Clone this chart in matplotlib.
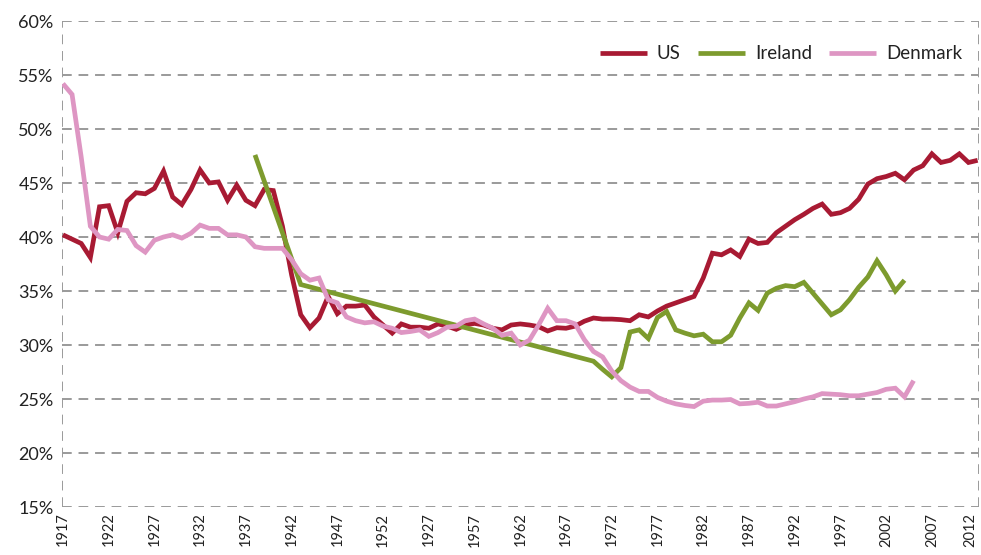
import numpy as np
import matplotlib
matplotlib.use("Agg")
import matplotlib.pyplot as plt

# ---- data (category index 0..100) ----
tick_labels = ["1917", "1922", "1927", "1932", "1937", "1942", "1947", "1952", "1927",
               "1957", "1962", "1967", "1972", "1977", "1982", "1987", "1992", "1997",
               "2002", "2007", "2012"]

us = [40.2, 39.8, 39.4, 38.1, 42.8, 42.9, 40.4, 43.3, 44.1, 44.0,
      44.5, 46.1, 43.7, 43.0, 44.4, 46.2, 45.0, 45.1, 43.4, 44.8,
      43.4, 42.9, 44.4, 44.3, 41.0, 36.5, 32.8, 31.6, 32.5, 34.5,
      32.9, 33.6, 33.6, 33.7, 32.6, 31.85, 31.1, 31.95, 31.65, 31.65,
      31.55, 31.95, 31.75, 31.45, 31.85, 32.0, 31.85, 31.55, 31.4, 31.85,
      31.95, 31.85, 31.7, 31.3, 31.6, 31.55, 31.75, 32.2, 32.5, 32.4,
      32.4, 32.35, 32.25, 32.8, 32.6, 33.15, 33.6, 33.9, 34.2, 34.5,
      36.2, 38.5, 38.35, 38.8, 38.2, 39.8, 39.4, 39.5, 40.4, 41.0,
      41.6, 42.1, 42.65, 43.05, 42.1, 42.25, 42.65, 43.5, 44.9, 45.4,
      45.6, 45.9, 45.3, 46.2, 46.6, 47.7, 46.9, 47.1, 47.7, 46.9,
      47.1]

denmark = [54.2, 53.2, 47.4, 41.0, 40.0, 39.8, 40.7, 40.6, 39.2, 38.6,
           39.7, 40.0, 40.2, 39.9, 40.35, 41.1, 40.8, 40.8, 40.2, 40.2,
           40.0, 39.1, 38.95, 38.95, 38.95, 37.9, 36.6, 36.0, 36.2, 34.2,
           33.9, 32.6, 32.25, 32.05, 32.15, 31.75, 31.55, 31.15, 31.25, 31.4,
           30.8, 31.15, 31.65, 31.75, 32.25, 32.4, 31.95, 31.55, 30.9, 31.1,
           30.0, 30.45, 31.85, 33.4, 32.25, 32.25, 31.95, 30.5, 29.4, 28.9,
           27.6, 26.7, 26.1, 25.7, 25.7, 25.15, 24.8, 24.55, 24.4, 24.3,
           24.8, 24.9, 24.9, 24.95, 24.55, 24.6, 24.7, 24.35, 24.35, 24.55,
           24.75, 25.0, 25.2, 25.5, 25.45, 25.4, 25.3, 25.3, 25.45, 25.6,
           25.9, 26.0, 25.2, 26.7, None, None, None, None, None, None,
           None]

ireland = [None] * 21 + [47.6, None, None, None, None, 35.6] + [None] * 31 + [
    28.5, 27.75, 27.05, 27.9, 31.2, 31.4, 30.6, 32.55, 33.1, 31.4,
    31.1, 30.85, 31.0, 30.3, 30.3, 30.9, 32.5, 33.9, 33.2, 34.8,
    35.25, 35.5, 35.4, 35.8, 34.8, 33.8, 32.8, 33.25, 34.2, 35.35,
    36.3, 37.8, 36.5, 35.0, 36.0] + [None] * 8

series_names = ["US", "Ireland", "Denmark"]
colors = ["#A81A33", "#7D9B2E", "#DE96C3"]

plt.rcParams['font.family'] = ['Lato', 'DejaVu Sans']

fig = plt.figure(figsize=(9.81, 5.55), dpi=100)
ax = fig.add_axes([62 / 981, 1 - 507 / 555, (979 - 62) / 981, (507 - 21) / 555])

x = np.arange(len(us))
for vals, name, col in zip([us, ireland, denmark], series_names, colors):
    arr = np.array([np.nan if v is None else v for v in vals], dtype=float)
    m = ~np.isnan(arr)
    ax.plot(x[m], arr[m] / 100.0, color=col, lw=3.4, label=name,
            solid_joinstyle='miter', solid_capstyle='butt', zorder=3)

ax.set_xlim(-0.1, 100.15)
ax.set_ylim(0.15, 0.60)
yt = np.arange(0.15, 0.601, 0.05)
ax.set_yticks(yt)
ax.set_yticklabels([f"{int(round(v * 100))}%" for v in yt], fontsize=13, color="#222222")
ax.set_xticks(np.arange(0, 101, 5))
ax.set_xticklabels(tick_labels, rotation=90, fontsize=10.5, color="#222222")
ax.tick_params(axis='both', length=0, pad=4)
ax.tick_params(axis='y', pad=6)
xl = ax.get_xticklabels()
xl[-1].set_horizontalalignment('right')

grid_kw = dict(color="#9a9a9a", lw=1.4, dashes=(5, 3.5), zorder=1)
for v in yt:
    ax.axhline(v, **grid_kw)
ax.axvline(-0.1, **grid_kw)
ax.axvline(100.15, **grid_kw)
for s in ax.spines.values():
    s.set_visible(False)

leg = ax.legend(loc='upper right', ncol=3, frameon=False, fontsize=13.5,
                handlelength=2.5, columnspacing=0.9, handletextpad=0.55,
                bbox_to_anchor=(1.0, 0.985))
for t in leg.get_texts():
    t.set_color("#222222")

fig.savefig("out.png", dpi=100)
